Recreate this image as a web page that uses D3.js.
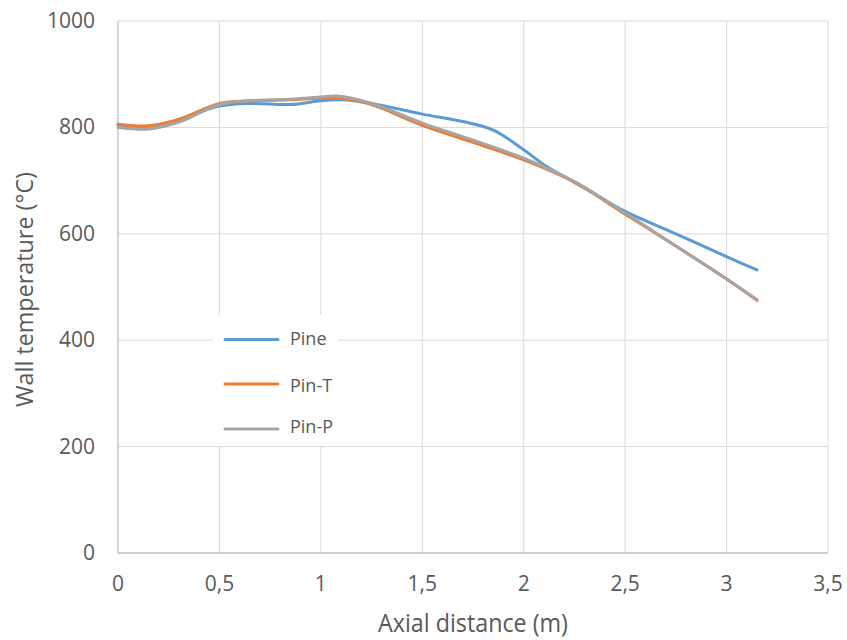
<!DOCTYPE html>
<html><head><meta charset="utf-8">
<script src="https://cdn.jsdelivr.net/npm/d3@7/dist/d3.min.js"></script>
<style>
body{margin:0;background:#fff;}
text{font-family:"Open Sans",sans-serif;fill:#595959;}
</style></head><body>
<svg id="c" width="847" height="640"></svg>
<script>
const pineX = [0, 0.15, 0.3, 0.5, 0.65, 0.85, 1.0, 1.1, 1.25, 1.5, 1.7, 1.85, 2.0, 2.1, 2.3, 2.5, 2.75, 3.0, 3.15];
const pineY = [805, 802, 815, 840, 845, 843, 850, 852, 845, 825, 811, 795, 758, 730, 686, 642, 600, 557, 532];
const pinTX = [0, 0.15, 0.3, 0.5, 0.65, 0.85, 1.0, 1.1, 1.25, 1.5, 1.75, 2.0, 2.25, 2.5, 2.75, 3.0, 3.15];
const pinTY = [806, 803, 815, 845, 850, 852, 855, 855, 843, 804, 772, 739, 697, 637, 577, 515, 475];
const pinPX = [0, 0.15, 0.3, 0.5, 0.65, 0.85, 1.0, 1.08, 1.25, 1.5, 1.75, 2.0, 2.25, 2.5, 2.75, 3.0, 3.15];
const pinPY = [800, 797, 810, 843, 850, 853, 857, 859, 845, 808, 776, 742, 698, 639, 577, 515, 476];
const xTicks = [0, 0.5, 1, 1.5, 2, 2.5, 3, 3.5];
const yTicks = [0, 200, 400, 600, 800, 1000];
const seriesNames = ["Pine", "Pin-T", "Pin-P"];
const seriesColors = ["#5B9BD5", "#ED7D31", "#A5A5A5"];

const svg = d3.select("#c");
const x = d3.scaleLinear().domain([0, 3.5]).range([118, 828]);
const y = d3.scaleLinear().domain([0, 1000]).range([553, 21]);
const fmt = d => String(d).replace(".", ",");

// gridlines
svg.append("g").selectAll("line").data(yTicks.filter(d => d > 0)).join("line")
  .attr("x1", x(0)).attr("x2", x(3.5)).attr("y1", d => y(d)).attr("y2", d => y(d))
  .attr("stroke", "#d9d9d9").attr("stroke-width", 1);
svg.append("g").selectAll("line").data(xTicks.filter(d => d > 0)).join("line")
  .attr("x1", d => x(d)).attr("x2", d => x(d)).attr("y1", y(0)).attr("y2", y(1000))
  .attr("stroke", "#d9d9d9").attr("stroke-width", 1);

// axes lines
svg.append("line").attr("x1", x(0)).attr("x2", x(0)).attr("y1", y(0)).attr("y2", y(1000))
  .attr("stroke", "#bfbfbf").attr("stroke-width", 1.3);
svg.append("line").attr("x1", x(0)).attr("x2", x(3.5)).attr("y1", y(0)).attr("y2", y(0))
  .attr("stroke", "#bfbfbf").attr("stroke-width", 1.3);

// tick labels
svg.append("g").selectAll("text").data(yTicks).join("text")
  .attr("x", 95).attr("y", d => y(d) + 7).attr("text-anchor", "end")
  .style("font-size", "21px").text(d => d);
svg.append("g").selectAll("text").data(xTicks).join("text")
  .attr("x", d => x(d)).attr("y", 591).attr("text-anchor", "middle")
  .style("font-size", "21px").text(fmt);

// axis titles
svg.append("text").attr("x", 378).attr("y", 632)
  .attr("textLength", 190).attr("lengthAdjust", "spacingAndGlyphs")
  .style("font-size", "25px").text("Axial distance (m)");
svg.append("text").attr("transform", "translate(33,407) rotate(-90)")
  .attr("textLength", 235).attr("lengthAdjust", "spacingAndGlyphs")
  .style("font-size", "24px").text("Wall temperature (°C)");

// legend background
const legend = svg.append("g");
legend.append("rect").attr("x", 213).attr("y", 315).attr("width", 125).attr("height", 131).attr("fill", "#fff");

// series
const data = [
  pineX.map((v, i) => [v, pineY[i]]),
  pinTX.map((v, i) => [v, pinTY[i]]),
  pinPX.map((v, i) => [v, pinPY[i]])
];
const line = d3.line().x(d => x(d[0])).y(d => y(d[1])).curve(d3.curveCatmullRom.alpha(0.5));
svg.append("g").selectAll("path").data(data).join("path")
  .attr("d", line).attr("fill", "none")
  .attr("stroke", (d, i) => seriesColors[i]).attr("stroke-width", 3)
  .attr("stroke-linecap", "round").attr("stroke-linejoin", "round");

// legend entries
const ly = [339.5, 384, 429];
const lb = [345, 392, 433];
seriesNames.forEach((n, i) => {
  legend.append("line").attr("x1", 225).attr("x2", 278).attr("y1", ly[i]).attr("y2", ly[i])
    .attr("stroke", seriesColors[i]).attr("stroke-width", 3).attr("stroke-linecap", "round");
  legend.append("text").attr("x", 290).attr("y", lb[i])
    .style("font-size", "18px").text(n);
});
</script>
</body></html>
